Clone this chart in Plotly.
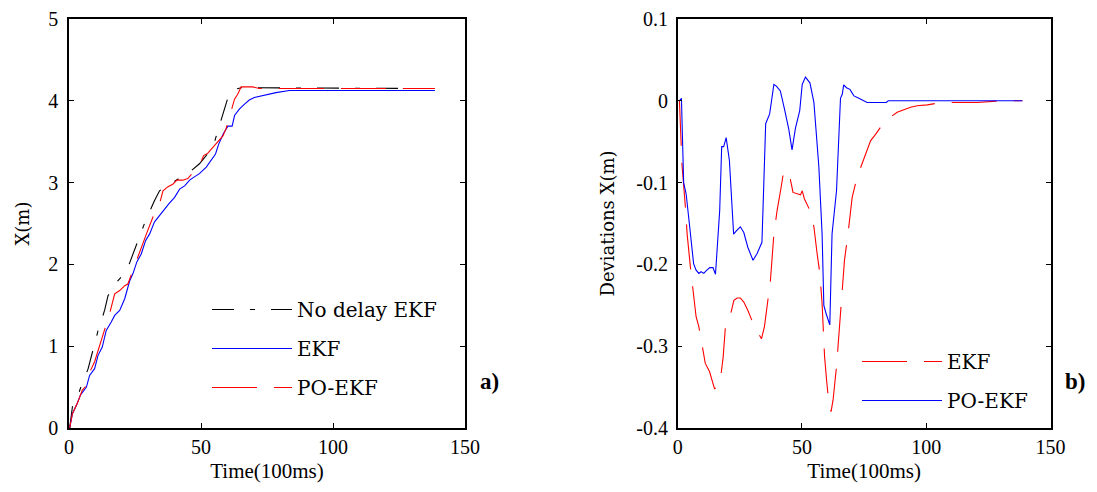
import plotly.graph_objects as go

# ---------- Panel a) : X(m) vs time ----------
t_nodelay = [0.25, 1.3, 2.8, 4.7, 7.2, 9.1, 11, 13.5, 14.8, 16.6, 18.5, 21.7, 24.2, 26.7, 29.3, 32.4, 34.3,
             36.8, 39.3, 42.5, 45, 49.4, 52.6, 54.5, 57, 59.1, 60.4, 61.8, 62.7, 65.2, 138.6]
x_nodelay = [0, 0.26, 0.34, 0.52, 0.72, 0.97, 1.19, 1.44, 1.62, 1.68, 1.80, 1.91, 2.13, 2.33, 2.56, 2.78, 2.90,
             2.96, 3.00, 3.07, 3.11, 3.23, 3.35, 3.43, 3.70, 3.92, 4.06, 4.08, 4.14, 4.16, 4.15]

t_ekf = [0.25, 1.3, 2.8, 4.3, 6.6, 7.8, 9.7, 11, 12.6, 14.1, 16, 17.3, 19.2, 21.1, 23, 24.2, 25.7, 27.4, 29,
         30.5, 32.4, 34.3, 36.2, 37.8, 40, 41.9, 43.8, 45.7, 47.5, 49.4, 52, 53.8, 55.5, 56.7, 58.5, 60.2,
         61.8, 62.7, 64.6, 66.5, 68.3, 70.2, 72.8, 75.3, 78.4, 83.5, 138.6]
x_ekf = [0, 0.175, 0.277, 0.40, 0.50, 0.643, 0.725, 0.888, 0.989, 1.193, 1.295, 1.376, 1.437, 1.58, 1.80,
         1.885, 2.03, 2.13, 2.29, 2.37, 2.52, 2.60, 2.67, 2.74, 2.82, 2.92, 2.96, 3.03, 3.07, 3.11, 3.19,
         3.27, 3.35, 3.47, 3.60, 3.69, 3.69, 3.82, 3.90, 3.96, 4.01, 4.04, 4.06, 4.08, 4.10, 4.125, 4.125]

t_poekf = [0.25, 1.3, 3.4, 5, 6.6, 8.1, 9.7, 11.3, 12.9, 15.4, 17.3, 19.2, 21.1, 22.3, 23.2, 25.5, 27.4,
           29.3, 31.8, 34.3, 35.6, 37.5, 39.3, 40.9, 43.1, 45, 49.4, 51, 52.6, 54.5, 56.4, 58.3, 59.5,
           60.8, 62.7, 63.9, 65.2, 69.6, 72.1, 138.6]
x_poekf = [0, 0.175, 0.32, 0.46, 0.52, 0.70, 0.81, 0.97, 1.15, 1.40, 1.64, 1.68, 1.74, 1.76, 1.84, 2.05,
           2.21, 2.37, 2.58, 2.74, 2.90, 2.95, 2.98, 3.03, 3.03, 3.05, 3.21, 3.33, 3.36, 3.43, 3.51, 3.57,
           3.66, 3.82, 4.02, 4.08, 4.17, 4.17, 4.15, 4.15]

# ---------- Panel b) : deviations ----------
t_dev_ekf = [0.7, 1.3, 1.7, 3.1, 3.8, 5.1, 6.4, 7.4, 8.5, 9.8, 11.1, 12.8, 14.8, 16.9, 18.3, 19.3, 21.2,
             22.6, 23.9, 25.2, 26.6, 28.2, 30.6, 32.6, 33.7, 34.9, 36, 37.3, 38.7, 40, 41.6, 42.7, 43.8,
             45.1, 46.4, 48.3, 49.4, 50.1, 51, 53.2, 54.8, 56.1, 57.2, 58.1, 59.1, 59.9, 60.8, 61.7, 62.5,
             63.9, 64.8, 66.2, 67.1, 68.5, 70.2, 72.2, 74.2, 76, 77.6, 79.6, 81.6, 83.6, 85.6, 88.3, 91,
             93.7, 96.4, 100.4, 104.4, 107.1, 120.5, 128.6, 130, 138.7]
d_dev_ekf = [0, -0.057, -0.077, -0.130, -0.163, -0.203, -0.236, -0.264, -0.276, -0.297, -0.321, -0.331,
             -0.352, -0.348, -0.313, -0.272, -0.262, -0.244, -0.241, -0.241, -0.246, -0.256, -0.274,
             -0.285, -0.291, -0.276, -0.252, -0.220, -0.163, -0.134, -0.106, -0.085, -0.086, -0.093,
             -0.112, -0.114, -0.115, -0.110, -0.120, -0.134, -0.154, -0.187, -0.211, -0.248, -0.313,
             -0.341, -0.370, -0.380, -0.366, -0.325, -0.285, -0.228, -0.195, -0.163, -0.118, -0.093,
             -0.077, -0.061, -0.049, -0.041, -0.033, -0.024, -0.020, -0.014, -0.011, -0.008, -0.006,
             -0.005, -0.003, -0.002, -0.002, -0.001, 0, 0]

t_dev_po = [0.7, 1.5, 2.4, 3.4, 4.4, 5.4, 6.4, 7.4, 8.5, 9.4, 10.5, 11.4, 12.9, 14.2, 15.2, 16.9, 17.7,
            18.5, 19.5, 20.8, 22.5, 23.6, 25.2, 26.6, 28.2, 30.3, 31.9, 33.9, 35.4, 37, 38.7, 39.7, 41.3,
            43.1, 44.7, 46, 47.4, 49.1, 50.1, 51.4, 53.2, 54.8, 56.8, 58.1, 58.8, 59.7, 61.2, 62.1, 63.9,
            65.5, 66.2, 66.8, 67.9, 69.3, 70.9, 72.9, 74.6, 76.2, 83.9, 84.7, 138.7]
d_dev_po = [0, 0.003, -0.10, -0.114, -0.142, -0.171, -0.199, -0.207, -0.211, -0.209, -0.211, -0.208,
            -0.204, -0.204, -0.212, -0.134, -0.056, -0.056, -0.045, -0.073, -0.163, -0.159, -0.154,
            -0.161, -0.179, -0.195, -0.187, -0.173, -0.028, -0.016, 0.020, 0.018, 0.012, -0.012, -0.035,
            -0.060, -0.033, -0.012, 0.020, 0.029, 0.022, -0.002, -0.081, -0.163, -0.25, -0.26, -0.274,
            -0.163, -0.110, 0.003, 0.008, 0.0195, 0.016, 0.014, 0.006, 0.003, 0, -0.002, -0.002, 0, 0]

x_ticks = [0, 50, 100, 150]
y1_ticks = [0, 1, 2, 3, 4, 5]
y2_ticks = [-0.4, -0.3, -0.2, -0.1, 0, 0.1]
y2_labels = ["-0.4", "-0.3", "-0.2", "-0.1", "0", "0.1"]

SERIF = "DejaVu Serif"
TICKFONT = "Liberation Serif"
DASH_BLACK = "22px,16px,5px,16px"
DASH_RED = "45px,17px"

fig = go.Figure()

fig.add_trace(go.Scatter(x=t_nodelay, y=x_nodelay, mode="lines", name="No delay EKF",
                         line=dict(color="black", width=1.1, dash=DASH_BLACK),
                         xaxis="x", yaxis="y", legend="legend", legendgroup="a1"))
fig.add_trace(go.Scatter(x=t_ekf, y=x_ekf, mode="lines", name="EKF",
                         line=dict(color="#0000ff", width=1.1),
                         xaxis="x", yaxis="y", legend="legend", legendgroup="a2"))
fig.add_trace(go.Scatter(x=t_poekf, y=x_poekf, mode="lines", name="PO-EKF",
                         line=dict(color="#ff0000", width=1.1, dash=DASH_RED),
                         xaxis="x", yaxis="y", legend="legend", legendgroup="a3"))

fig.add_trace(go.Scatter(x=t_dev_ekf, y=d_dev_ekf, mode="lines", name="EKF",
                         line=dict(color="#ff0000", width=1.1, dash=DASH_RED),
                         xaxis="x2", yaxis="y2", legend="legend2", legendgroup="b1"))
fig.add_trace(go.Scatter(x=t_dev_po, y=d_dev_po, mode="lines", name="PO-EKF",
                         line=dict(color="#0000ff", width=1.1),
                         xaxis="x2", yaxis="y2", legend="legend2", legendgroup="b2"))

axis_common = dict(showgrid=False, zeroline=False, showline=True, linecolor="black", linewidth=1.5,
                   mirror="ticks", ticks="inside", ticklen=5, tickcolor="black", tickwidth=1,
                   automargin=False, ticklabeloverflow="allow",
                   tickfont=dict(family=TICKFONT, size=20, color="black"))

fig.update_layout(
    width=1081, height=476,
    margin=dict(l=0, r=0, t=0, b=0, autoexpand=False),
    paper_bgcolor="white", plot_bgcolor="white",
    xaxis=dict(domain=[0.05643, 0.42276], range=[0, 150], tickvals=x_ticks, anchor="y",
               title=dict(text="Time(100ms)", font=dict(family=TICKFONT, size=21, color="black"), standoff=7),
               **axis_common),
    yaxis=dict(domain=[0.11765, 0.97689], range=[0, 5], tickvals=y1_ticks, anchor="x",
               ticklabelstandoff=5,
               title=dict(text="X(m)", font=dict(family=SERIF, size=18, color="black"), standoff=14),
               **axis_common),
    xaxis2=dict(domain=[0.61952, 0.96439], range=[0, 150], tickvals=x_ticks, anchor="y2",
                title=dict(text="Time(100ms)", font=dict(family=TICKFONT, size=21, color="black"), standoff=7),
                **axis_common),
    yaxis2=dict(domain=[0.11765, 0.97689], range=[-0.4, 0.1], tickvals=y2_ticks, ticktext=y2_labels,
                anchor="x2", ticklabelstandoff=4,
                title=dict(text="Deviations X(m)", font=dict(family=SERIF, size=18, color="black"), standoff=17),
                **axis_common),
    legend=dict(x=0.18409, y=0.40756, xanchor="left", yanchor="top", bgcolor="rgba(0,0,0,0)",
                borderwidth=0, font=dict(family=SERIF, size=20, color="black"),
                itemwidth=80, tracegroupgap=10),
    legend2=dict(x=0.78538, y=0.29832, xanchor="left", yanchor="top", bgcolor="rgba(0,0,0,0)",
                 borderwidth=0, font=dict(family=SERIF, size=20, color="black"),
                 itemwidth=80, tracegroupgap=10),
    annotations=[
        dict(text="<b>a)</b>", x=0.43478, y=0.21429, xref="paper", yref="paper", showarrow=False,
             xanchor="left", yanchor="middle", font=dict(family=TICKFONT, size=23, color="black")),
        dict(text="<b>b)</b>", x=0.998, y=0.21429, xref="paper", yref="paper", showarrow=False,
             xanchor="right", yanchor="middle", font=dict(family=TICKFONT, size=23, color="black")),
    ],
)

fig.write_html("out.html")
